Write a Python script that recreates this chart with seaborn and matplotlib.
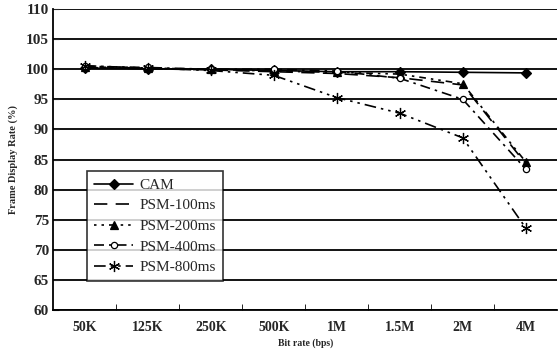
import matplotlib
matplotlib.use("Agg")
import matplotlib.pyplot as plt
import seaborn as sns
import pandas as pd
from matplotlib.ticker import FixedLocator

bit_rates = ["50K", "125K", "250K", "500K", "1M", "1.5M", "2M", "4M"]

cam = [100.2, 100.1, 100.0, 99.8, 99.6, 99.6, 99.5, 99.4]
psm_100 = [100.3, 100.1, 99.9, 99.6, 99.3, 98.6, 97.4, 84.3]
psm_200 = [100.4, 100.2, 100.0, 99.7, 99.5, 99.2, 97.6, 84.6]
psm_400 = [100.5, 100.3, 100.0, 100.0, 99.7, 98.5, 95.0, 83.4]
psm_800 = [100.6, 100.2, 99.8, 99.0, 95.3, 92.7, 88.6, 73.6]

sns.set_style("white")
plt.rcParams["font.family"] = ["Liberation Serif", "DejaVu Serif"]

df = pd.DataFrame({"rate": bit_rates, "CAM": cam, "PSM-100ms": psm_100,
                   "PSM-200ms": psm_200, "PSM-400ms": psm_400, "PSM-800ms": psm_800})

fig = plt.figure(figsize=(5.59, 3.51), dpi=100)
ax = fig.add_axes([0.095, 0.117, 0.902, 0.857])

# horizontal grid first so lines sit on top
for v in range(60, 111, 5):
    ax.axhline(v, color="black", lw=1.3, zorder=0)

styles = {
    "CAM": dict(linestyle="-", marker="D", markersize=5, markerfacecolor="black"),
    "PSM-100ms": dict(linestyle=(0, (8, 5)), marker=None),
    "PSM-200ms": dict(linestyle=(0, (1.5, 3, 1.5, 3, 4, 3)), marker="^", markersize=6, markerfacecolor="black"),
    "PSM-400ms": dict(linestyle=(0, (6, 3, 1.5, 3)), marker="o", markersize=4.5, markerfacecolor="white"),
    "PSM-800ms": dict(linestyle=(0, (7, 3, 1.5, 3, 1.5, 3)), marker=(6, 2, 0), markersize=8),
}
for name, st in styles.items():
    sns.lineplot(data=df, x="rate", y=name, ax=ax, color="black", lw=1.2,
                 sort=False, label=name, markeredgecolor="black",
                 markeredgewidth=0.9, **st)

ax.set_xlim(-0.5, len(bit_rates) - 0.5)
ax.set_ylim(60, 110)
ax.set_yticks(range(60, 111, 5))
ax.xaxis.set_minor_locator(FixedLocator([i + 0.5 for i in range(len(bit_rates) - 1)]))
ax.tick_params(axis="x", which="major", length=0, pad=8, labelsize=10)
ax.tick_params(axis="x", which="minor", length=4, direction="in", bottom=True, color="black")
ax.tick_params(axis="y", length=4, direction="in", left=True, labelsize=11, pad=3)
for lab in ax.get_xticklabels() + ax.get_yticklabels():
    lab.set_fontweight("bold")

for s in ["top", "right"]:
    ax.spines[s].set_visible(False)
for s in ["left", "bottom"]:
    ax.spines[s].set_color("black")
    ax.spines[s].set_linewidth(1.3)

ax.set_xlabel("Bit rate (bps)", fontsize=7, fontweight="bold", labelpad=3)
ax.set_ylabel("Frame Display Rate (%)", fontsize=7.5, fontweight="bold", labelpad=6)

leg = ax.legend(loc="lower left", bbox_to_anchor=(0.067, 0.096), borderaxespad=0,
                frameon=True, fancybox=False, edgecolor="black", fontsize=11,
                handlelength=2.6, borderpad=0.45, labelspacing=0.45, handletextpad=0.4)
leg.get_frame().set_linewidth(1.2)

fig.savefig("out.png", dpi=100)
